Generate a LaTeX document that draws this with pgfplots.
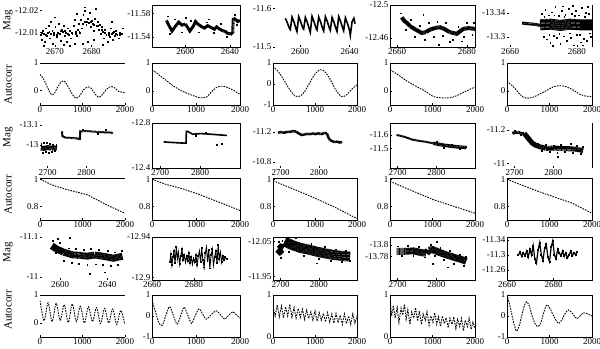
\documentclass[border=0pt]{standalone}
\usepackage{fontspec}
\setmainfont{Liberation Serif}
\usepackage{pgfplots}
\pgfplotsset{compat=1.18}
\pgfplotsset{
  base/.style={scale only axis, anchor=south west,
    axis line style={line width=0.7bp}, tick style={line width=0.5bp, black},
    major tick length=2bp, tick align=inside, tick pos=left,
    ticklabel style={font=\fontsize{9bp}{10bp}\selectfont, inner sep=1.5bp},
    /pgf/number format/assume math mode=true, scaled ticks=false},
  mag/.style={base, y dir=reverse},
  acf/.style={base, xmin=0, xmax=2000, xtick={0,1000,2000}, xticklabels={0,1000,2000}},
  c1/.style={at={(40bp,#1)}, width=85bp},
  c2/.style={at={(152bp,#1)}, width=88bp},
  c3/.style={at={(273bp,#1)}, width=84bp},
  c4/.style={at={(390bp,#1)}, width=85bp},
  c5/.style={at={(507bp,#1)}, width=85bp},
  nof/.style={axis line style={draw=none}},
  tbf/.style={axis line style={draw=none}, extra description/.code={\draw[line width=0.7bp] (0,0) -- (1,0) (0,1) -- (1,1);}},
  rf/.style={axis line style={draw=none}, extra description/.code={\draw[line width=0.7bp] (1,0) -- (1,1);}},
  band/.style={black, line width=#1, line join=miter, no marks, dash pattern=on 0.9bp off 0.35bp},
  dots/.style={only marks, mark=square*, mark size=0.45bp, black},
  ac/.style={black, line width=0.9bp, dash pattern=on 1.6bp off 1.1bp, no marks},
}
\begin{document}
\begin{tikzpicture}
\path[use as bounding box] (0,0) rectangle (600bp,349bp);
\tikzset{lab/.style={rotate=90, font=\fontsize{11bp}{12bp}\selectfont}}
\node[lab] at (8bp,329bp) {Mag};
\node[lab] at (8bp,264bp) {Autocorr};
\node[lab] at (8bp,212bp) {Mag};
\node[lab] at (8bp,154bp) {Autocorr};
\node[lab] at (8bp,97bp) {Mag};
\node[lab] at (8bp,39bp) {Autocorr};

% ---------- row 1: Mag ----------
\begin{axis}[mag, nof, c1=302bp, height=42bp, xmin=2666, xmax=2689, ymin=-12.0225, ymax=-12.0035,
  xtick={2670,2680}, xticklabels={2670,2680}, ytick={-12.02,-12.01}, yticklabels={-12.02,-12.01}]
\addplot[dots] coordinates {(2666.2,-12.0090) (2666.5,-12.0070) (2666.8,-12.0110) (2667.1,-12.0095) (2667.3,-12.0060) (2667.6,-12.0120) (2667.9,-12.0085) (2668.2,-12.0100) (2668.4,-12.0130) (2668.7,-12.0075) (2669.0,-12.0095) (2669.3,-12.0110) (2669.5,-12.0050) (2669.8,-12.0090) (2670.1,-12.0125) (2670.4,-12.0080) (2670.7,-12.0100) (2671.0,-12.0140) (2671.3,-12.0095) (2671.5,-12.0065) (2671.8,-12.0115) (2672.1,-12.0105) (2672.4,-12.0130) (2672.7,-12.0085) (2673.0,-12.0100) (2673.2,-12.0060) (2673.5,-12.0120) (2673.8,-12.0090) (2674.1,-12.0110) (2674.4,-12.0075) (2674.7,-12.0095) (2675.0,-12.0130) (2675.3,-12.0050) (2675.6,-12.0105) (2675.9,-12.0085) (2676.2,-12.0115) (2676.5,-12.0140) (2676.8,-12.0100) (2677.1,-12.0160) (2677.4,-12.0120) (2677.7,-12.0180) (2678.0,-12.0150) (2678.2,-12.0200) (2678.5,-12.0135) (2678.8,-12.0165) (2679.1,-12.0145) (2679.4,-12.0190) (2679.7,-12.0125) (2680.0,-12.0155) (2680.3,-12.0140) (2680.6,-12.0110) (2680.9,-12.0165) (2681.2,-12.0130) (2681.5,-12.0150) (2681.8,-12.0115) (2682.1,-12.0135) (2682.4,-12.0095) (2682.7,-12.0125) (2683.0,-12.0105) (2683.3,-12.0075) (2683.6,-12.0115) (2683.9,-12.0090) (2684.2,-12.0060) (2684.5,-12.0100) (2684.8,-12.0080) (2685.1,-12.0120) (2685.4,-12.0095) (2685.7,-12.0070) (2686.0,-12.0105) (2686.3,-12.0085) (2686.6,-12.0110) (2686.9,-12.0090) (2687.2,-12.0075) (2687.5,-12.0100) (2688.0,-12.0095)
 (2667.0,-12.0040) (2669.0,-12.0150) (2672.5,-12.0045) (2675.5,-12.0160) (2678.0,-12.0215) (2679.0,-12.0060) (2681.0,-12.0210) (2683.0,-12.0045) (2685.5,-12.0150) (2677.5,-12.0050) (2680.5,-12.0070) (2688.3,-12.0120) (2670.0,-12.0170) (2674.0,-12.0040) (2676.0,-12.0185)
 (2666.4,-12.0100) (2667.5,-12.0090) (2668.5,-12.0105) (2669.6,-12.0100) (2670.6,-12.0090) (2671.6,-12.0110) (2672.6,-12.0110) (2673.6,-12.0095) (2674.6,-12.0100) (2675.6,-12.0095) (2676.6,-12.0105) (2677.6,-12.0140) (2678.6,-12.0150) (2679.6,-12.0150) (2680.6,-12.0135) (2681.6,-12.0130) (2682.6,-12.0115) (2683.6,-12.0100) (2684.6,-12.0090) (2685.6,-12.0100) (2686.6,-12.0095) (2687.6,-12.0090)};
\end{axis}

\begin{axis}[mag, c2=302bp, height=42bp, xmin=2570, xmax=2649, ymin=-11.594, ymax=-11.523,
  xtick={2600,2640}, xticklabels={2600,2640}, ytick={-11.58,-11.54}, yticklabels={-11.58,-11.54}]
\addplot[band=3bp] coordinates {(2583,-11.568) (2585,-11.560) (2588,-11.550) (2591,-11.558) (2594,-11.565) (2597,-11.560) (2600,-11.562) (2602,-11.556) (2604,-11.550) (2607,-11.558) (2609,-11.566) (2611,-11.562) (2614,-11.558) (2617,-11.555) (2620,-11.559) (2623,-11.556) (2626,-11.553) (2628,-11.557) (2630,-11.554) (2633,-11.551) (2636,-11.549) (2638,-11.546) (2641,-11.545) (2642.5,-11.548) (2643,-11.572) (2645,-11.570) (2647,-11.566) (2649,-11.568)};
\addplot[dots] coordinates {(2584,-11.575) (2586,-11.545) (2590,-11.570) (2597,-11.548) (2605,-11.567) (2612,-11.548) (2619,-11.565) (2625,-11.547) (2632,-11.562) (2637,-11.541) (2644,-11.578) (2646,-11.560) (2621,-11.570) (2600,-11.572)};
\end{axis}

\begin{axis}[mag, nof, c3=302bp, height=42bp, xmin=2578, xmax=2646, ymin=-11.608, ymax=-11.5,
  xtick={2600,2640}, xticklabels={2600,2640}, ytick={-11.6,-11.5}, yticklabels={-11.6,-11.5}]
\addplot[black, line width=1.6bp, no marks] coordinates {(2588,-11.574) (2589.5,-11.563) (2591.3,-11.548) (2592,-11.545) (2593.4,-11.577) (2594.9,-11.565) (2596.7,-11.546) (2597.4,-11.540) (2598.8,-11.578) (2600.3,-11.566) (2602.1,-11.549) (2602.8,-11.546) (2604.2,-11.576) (2605.7,-11.564) (2607.5,-11.545) (2608.2,-11.538) (2609.6,-11.579) (2611.1,-11.566) (2612.9,-11.548) (2613.6,-11.544) (2615,-11.577) (2616.5,-11.565) (2618.3,-11.546) (2619,-11.541) (2620.4,-11.578) (2621.9,-11.566) (2623.7,-11.548) (2624.4,-11.543) (2625.8,-11.576) (2627.3,-11.564) (2629.1,-11.546) (2629.8,-11.540) (2631.2,-11.578) (2632.7,-11.566) (2634.5,-11.548) (2635.2,-11.542) (2636.6,-11.575) (2638.1,-11.562) (2639.9,-11.544) (2640.6,-11.530) (2642,-11.565) (2643.5,-11.574) (2644.4,-11.560)};
\end{axis}

\begin{axis}[mag, c4=302bp, height=42bp, xmin=2658, xmax=2682.3, ymin=-12.5, ymax=-12.449,
  xtick={2660,2680}, xticklabels={2660,2680}, ytick={-12.5,-12.46}, yticklabels={-12.5,-12.46}]
\addplot[band=4bp] coordinates {(2661.4,-12.485) (2662,-12.481) (2662.9,-12.478) (2663.8,-12.474) (2664.6,-12.472) (2665.8,-12.469) (2667.1,-12.466) (2668.2,-12.467) (2669.4,-12.470) (2670.8,-12.472) (2672.3,-12.473) (2673.5,-12.471) (2675.1,-12.467) (2677.1,-12.465) (2678,-12.468) (2679,-12.471) (2680.5,-12.472) (2682.3,-12.471)};
\addplot[dots] coordinates {(2661,-12.490) (2662.5,-12.470) (2664,-12.482) (2665,-12.462) (2666.5,-12.475) (2668,-12.458) (2669,-12.478) (2670.5,-12.462) (2671.5,-12.480) (2673,-12.463) (2674,-12.478) (2676,-12.458) (2677.5,-12.474) (2679,-12.462) (2680,-12.478) (2681.5,-12.464) (2682,-12.478) (2667.5,-12.488) (2675,-12.455) (2672,-12.452) (2678.5,-12.456)};
\end{axis}

\begin{axis}[mag, rf, c5=302bp, height=42bp, xmin=2659.1, xmax=2684.5, ymin=-13.353, ymax=-13.283,
  xtick={2660,2680}, xticklabels={2660,2680}, ytick={-13.34,-13.3}, yticklabels={-13.34,-13.3}]
\addplot[band=3bp] coordinates {(2663.6,-13.323) (2665,-13.322) (2667,-13.321) (2669.2,-13.319)};
\addplot[band=11bp] coordinates {(2669,-13.320) (2672,-13.321) (2675,-13.319) (2678,-13.321) (2681,-13.320) (2684.5,-13.320)};
\addplot[dots] coordinates {(2669.5,-13.338) (2670,-13.300) (2670.5,-13.345) (2671,-13.296) (2671.5,-13.336) (2672,-13.290) (2672.5,-13.341) (2673,-13.302) (2673.5,-13.350) (2674,-13.298) (2674.5,-13.335) (2675,-13.288) (2675.5,-13.343) (2676,-13.301) (2676.5,-13.337) (2677,-13.293) (2677.5,-13.347) (2678,-13.299) (2678.5,-13.339) (2679,-13.286) (2679.5,-13.344) (2680,-13.303) (2680.5,-13.336) (2681,-13.291) (2681.5,-13.348) (2682,-13.297) (2682.5,-13.340) (2683,-13.294) (2683.5,-13.338) (2684,-13.300) (2670.2,-13.334) (2671.7,-13.304) (2673.2,-13.336) (2674.7,-13.305) (2676.2,-13.333) (2677.7,-13.306) (2679.2,-13.335) (2680.7,-13.304) (2682.2,-13.334) (2683.7,-13.306) (2672.8,-13.285) (2678.8,-13.352) (2681.8,-13.286) (2675.8,-13.351) (2683.2,-13.350)};
\end{axis}

% ---------- row 2: Autocorr ----------
\begin{axis}[acf, tbf, c1=244bp, height=42bp, ymin=-0.55, ymax=1, ytick={0,1}, yticklabels={0,1}]
\addplot[ac, smooth] coordinates {(0,0.58) (80,0.42) (160,0.15) (230,-0.08) (280,-0.17) (340,-0.12) (420,0.12) (500,0.3) (550,0.34) (610,0.27) (690,0.05) (780,-0.2) (860,-0.3) (940,-0.2) (1020,0.0) (1100,0.1) (1140,0.12) (1200,0.07) (1290,-0.13) (1370,-0.26) (1450,-0.2) (1540,-0.02) (1620,0.1) (1690,0.13) (1760,0.08) (1850,-0.05) (1930,-0.08) (2000,-0.1)};
\end{axis}

\begin{axis}[acf, c2=244bp, height=42bp, ymin=-0.5, ymax=1, ytick={0,1}, yticklabels={0,1}]
\addplot[ac, smooth] coordinates {(0,0.75) (100,0.65) (200,0.52) (315,0.39) (450,0.22) (621,0.05) (780,-0.07) (927,-0.16) (1080,-0.24) (1234,-0.22) (1310,-0.1) (1387,0.03) (1460,0.12) (1540,0.17) (1620,0.17) (1694,0.14) (1770,0.09) (1846,0.03) (1920,-0.04) (2000,-0.12)};
\end{axis}

\begin{axis}[acf, c3=244bp, height=42bp, ymin=-1, ymax=1, ytick={-1,0,1}, yticklabels={-1,0,1}]
\addplot[ac, smooth] coordinates {(0,0.84) (100,0.65) (200,0.38) (300,0.05) (400,-0.28) (500,-0.52) (595,-0.6) (700,-0.5) (800,-0.2) (900,0.15) (1000,0.48) (1119,0.68) (1200,0.65) (1300,0.42) (1400,0.08) (1500,-0.3) (1635,-0.6) (1750,-0.52) (1850,-0.3) (1950,-0.12) (2000,-0.05)};
\end{axis}

\begin{axis}[acf, c4=244bp, height=42bp, ymin=-0.5, ymax=1, ytick={0,1}, yticklabels={0,1}]
\addplot[ac, smooth] coordinates {(0,0.75) (150,0.62) (393,0.36) (600,0.18) (784,0.03) (900,-0.08) (1020,-0.2) (1176,-0.24) (1300,-0.25) (1412,-0.24) (1550,-0.18) (1700,-0.07) (1850,0.04) (2000,0.14)};
\end{axis}

\begin{axis}[acf, c5=244bp, height=42bp, ymin=-0.5, ymax=1, ytick={0,1}, yticklabels={0,1}]
\addplot[ac, smooth] coordinates {(0,0.35) (150,0.15) (306,-0.12) (385,-0.22) (463,-0.26) (620,-0.22) (780,-0.1) (933,0.02) (1090,0.15) (1247,0.19) (1403,0.15) (1560,0.03) (1717,-0.12) (1850,-0.18) (2000,-0.2)};
\end{axis}

% ---------- row 3: Mag ----------
\begin{axis}[mag, nof, c1=181bp, height=45bp, xmin=2680, xmax=2900, ymin=-13.11, ymax=-12.885,
  xtick={2700,2800}, xticklabels={2700,2800}, ytick={-13.1,-13}, yticklabels={-13.1,-13}]
\addplot[band=5bp] coordinates {(2682,-12.985) (2690,-12.983) (2700,-12.987) (2710,-12.984) (2718,-12.986) (2724,-12.985)};
\addplot[band=2bp] coordinates {(2737,-13.068) (2738,-13.045) (2745,-13.037) (2760,-13.035) (2775,-13.033) (2783,-13.030) (2784,-13.068) (2800,-13.070) (2820,-13.067) (2840,-13.064) (2860,-13.063) (2869,-13.060)};
\addplot[dots] coordinates {(2683,-13.005) (2686,-12.962) (2690,-13.010) (2694,-12.965) (2698,-13.012) (2702,-12.960) (2706,-13.005) (2710,-12.968) (2714,-13.000) (2718,-12.970) (2722,-13.003) (2790,-13.078) (2830,-13.055) (2850,-13.075)};
\end{axis}

\begin{axis}[mag, c2=181bp, height=45bp, xmin=2680, xmax=2900, ymin=-12.8, ymax=-12.4,
  xtick={2700,2800}, xticklabels={2700,2800}, ytick={-12.8,-12.4}, yticklabels={-12.8,-12.4}]
\addplot[black, line width=1.6bp, no marks] coordinates {(2709,-12.632) (2725,-12.628) (2740,-12.625) (2755,-12.622) (2765,-12.621) (2766,-12.726) (2770,-12.724) (2782,-12.700) (2802,-12.706) (2820,-12.702) (2835,-12.698) (2850,-12.694) (2867,-12.689)};
\addplot[dots] coordinates {(2842,-12.610) (2855,-12.612) (2790,-12.685) (2815,-12.715)};
\end{axis}

\begin{axis}[mag, nof, c3=181bp, height=45bp, xmin=2680, xmax=2900, ymin=-11.32, ymax=-10.72,
  xtick={2700,2800}, xticklabels={2700,2800}, ytick={-11.2,-10.8}, yticklabels={-11.2,-10.8}]
\addplot[band=2.5bp] coordinates {(2693,-11.191) (2700,-11.198) (2710,-11.190) (2718,-11.204) (2724,-11.200) (2732,-11.212) (2740,-11.205) (2748,-11.180) (2755,-11.160) (2763,-11.168) (2770,-11.175) (2777,-11.170) (2785,-11.180) (2792,-11.172) (2798,-11.183) (2803,-11.175) (2808,-11.173) (2815,-11.188) (2821,-11.183) (2825,-11.130) (2829,-11.093) (2834,-11.080) (2840,-11.067) (2848,-11.072) (2855,-11.060) (2861,-11.065)};
\end{axis}

\begin{axis}[mag, c4=181bp, height=45bp, xmin=2680, xmax=2900, ymin=-11.69, ymax=-11.352,
  xtick={2700,2800}, xticklabels={2700,2800}, ytick={-11.6,-11.5}, yticklabels={-11.6,-11.5}]
\addplot[band=2bp] coordinates {(2697,-11.600) (2715,-11.588) (2740,-11.563) (2765,-11.552) (2792,-11.538)};
\addplot[band=3.5bp] coordinates {(2792,-11.538) (2810,-11.528) (2827,-11.520) (2850,-11.512) (2878,-11.505)};
\addplot[dots] coordinates {(2800,-11.550) (2820,-11.505) (2840,-11.528) (2860,-11.495) (2875,-11.515)};
\end{axis}

\begin{axis}[mag, rf, c5=181bp, height=45bp, xmin=2680, xmax=2900, ymin=-11.242, ymax=-10.972,
  xtick={2700,2800}, xticklabels={2700,2800}, ytick={-11.2,-11}, yticklabels={-11.2,-11}]
\addplot[band=3bp] coordinates {(2694,-11.180) (2703,-11.186) (2711,-11.185) (2718,-11.178) (2725,-11.180)};
\addplot[band=5bp] coordinates {(2725,-11.180) (2735,-11.150) (2746,-11.120) (2755,-11.108) (2764,-11.100) (2781,-11.090) (2800,-11.092) (2816,-11.090) (2835,-11.088) (2851,-11.086) (2865,-11.082) (2877,-11.076)};
\addplot[dots] coordinates {(2700,-11.195) (2715,-11.170) (2735,-11.140) (2750,-11.105) (2760,-11.120) (2770,-11.075) (2780,-11.110) (2790,-11.070) (2800,-11.105) (2810,-11.065) (2820,-11.110) (2830,-11.068) (2840,-11.100) (2850,-11.062) (2860,-11.108) (2870,-11.058) (2875,-11.100) (2812,-11.040) (2845,-11.120)};
\end{axis}

% ---------- row 4: Autocorr ----------
\begin{axis}[acf, tbf, c1=129bp, height=42bp, ymin=0.7, ymax=1.01, ytick={0.8,1}, yticklabels={0.8,1}]
\addplot[ac] coordinates {(0,1.0) (314,0.955) (627,0.925) (1098,0.888) (1647,0.8) (2000,0.75)};
\end{axis}

\begin{axis}[acf, c2=129bp, height=42bp, ymin=0.7, ymax=1.01, ytick={0.8,1}, yticklabels={0.8,1}]
\addplot[ac] coordinates {(0,1.0) (315,0.963) (700,0.93) (1080,0.888) (1380,0.85) (1770,0.8) (2000,0.77)};
\end{axis}

\begin{axis}[acf, c3=129bp, height=42bp, ymin=0.7, ymax=1.01, ytick={0.8,1}, yticklabels={0.8,1}]
\addplot[ac] coordinates {(0,0.99) (800,0.888) (1435,0.8) (2000,0.71)};
\end{axis}

\begin{axis}[acf, c4=129bp, height=42bp, ymin=0.7, ymax=1.01, ytick={0.8,1}, yticklabels={0.8,1}]
\addplot[ac] coordinates {(0,0.985) (1020,0.85) (2000,0.75)};
\end{axis}

\begin{axis}[acf, c5=129bp, height=42bp, ymin=0.7, ymax=1.01, ytick={0.8,1}, yticklabels={0.8,1}]
\addplot[ac] coordinates {(0,1.0) (745,0.91) (1530,0.825) (2000,0.75)};
\end{axis}

% ---------- row 5: Mag ----------
\begin{axis}[mag, nof, c1=69bp, height=43bp, xmin=2583, xmax=2655, ymin=-11.1, ymax=-10.9925,
  xtick={2600,2640}, xticklabels={2600,2640}, ytick={-11.1,-11}, yticklabels={-11.1,-11}]
\addplot[band=7bp] coordinates {(2593,-11.078) (2597,-11.070) (2603,-11.062) (2611,-11.055) (2617,-11.054) (2623,-11.052) (2629,-11.055) (2634,-11.053) (2640,-11.050) (2645,-11.047) (2650,-11.050) (2653,-11.052)};
\addplot[dots] coordinates {(2594,-11.090) (2596,-11.060) (2600,-11.085) (2603,-11.040) (2607,-11.072) (2610,-11.035) (2613,-11.070) (2616,-11.033) (2620,-11.068) (2623,-11.030) (2626,-11.070) (2630,-11.032) (2633,-11.068) (2636,-11.030) (2640,-11.065) (2643,-11.028) (2646,-11.062) (2649,-11.030) (2652,-11.065) (2598,-11.095) (2625,-11.008) (2638,-11.012) (2608,-11.098)};
\end{axis}

\begin{axis}[mag, c2=69bp, height=43bp, xmin=2660, xmax=2702, ymin=-12.94, ymax=-12.8975,
  xtick={2660,2680}, xticklabels={2660,2680}, ytick={-12.94,-12.9}, yticklabels={-12.94,-12.9}]
\addplot[black, line width=0.9bp, mark=square*, mark size=0.4bp] coordinates {(2668.5,-12.915) (2669,-12.923) (2669.5,-12.912) (2670,-12.920) (2670.5,-12.926) (2671,-12.914) (2671.6,-12.930) (2672.1,-12.918) (2672.6,-12.925) (2673.2,-12.913) (2673.7,-12.921) (2674.3,-12.928) (2674.8,-12.917) (2675.4,-12.922) (2676,-12.915) (2676.5,-12.921) (2677.1,-12.916) (2677.6,-12.924) (2678.2,-12.914) (2678.7,-12.920) (2679.3,-12.913) (2679.8,-12.919) (2680.4,-12.915) (2681,-12.922) (2681.5,-12.912) (2682.1,-12.921) (2682.6,-12.926) (2683.2,-12.915) (2683.7,-12.929) (2684.3,-12.917) (2684.9,-12.910) (2685.4,-12.924) (2686,-12.930) (2686.5,-12.916) (2687.1,-12.927) (2687.6,-12.909) (2688.2,-12.922) (2688.8,-12.928) (2689.3,-12.912) (2689.9,-12.920) (2690.5,-12.926) (2691,-12.914) (2691.6,-12.932) (2692.1,-12.918) (2692.7,-12.925) (2693.2,-12.915) (2693.8,-12.921) (2694.4,-12.917) (2695,-12.920) (2695.7,-12.918)};
\end{axis}

\begin{axis}[mag, c3=69bp, height=43bp, xmin=2680, xmax=2900, ymin=-12.063, ymax=-11.94,
  xtick={2700,2800}, xticklabels={2700,2800}, ytick={-12.05,-11.95}, yticklabels={-12.05,-11.95}]
\addplot[band=9bp] coordinates {(2694,-12.030) (2698,-12.026) (2702,-12.030) (2706,-12.028)};
\addplot[band=10bp] coordinates {(2710,-12.050) (2730,-12.040) (2751,-12.032) (2773,-12.027) (2795,-12.021) (2817,-12.016) (2838,-12.012) (2860,-12.009) (2882,-12.007)};
\addplot[dots] coordinates {(2696,-12.050) (2700,-12.005) (2704,-12.052) (2715,-12.062) (2720,-12.020) (2740,-12.060) (2760,-12.010) (2780,-12.045) (2800,-12.000) (2815,-12.035) (2830,-11.995) (2845,-12.028) (2860,-11.993) (2870,-12.025) (2880,-11.995) (2795,-11.988)};
\end{axis}

\begin{axis}[mag, c4=69bp, height=43bp, xmin=2680, xmax=2900, ymin=-13.8137, ymax=-13.74,
  xtick={2700,2800}, xticklabels={2700,2800}, ytick={-13.8,-13.78}, yticklabels={-13.8,-13.78}]
\addplot[band=7bp] coordinates {(2697,-13.789) (2720,-13.789) (2740,-13.790) (2760,-13.787) (2774,-13.786) (2780,-13.791) (2791,-13.792) (2805,-13.788) (2826,-13.783) (2850,-13.778) (2870,-13.774) (2878,-13.772)};
\addplot[dots] coordinates {(2700,-13.798) (2710,-13.781) (2725,-13.799) (2740,-13.782) (2755,-13.797) (2770,-13.779) (2785,-13.801) (2795,-13.782) (2810,-13.795) (2820,-13.775) (2835,-13.790) (2845,-13.768) (2860,-13.784) (2870,-13.765) (2877,-13.780) (2790,-13.768) (2830,-13.762) (2800,-13.806)};
\end{axis}

\begin{axis}[mag, c5=69bp, height=43bp, xmin=2660, xmax=2696.4, ymin=-11.348, ymax=-11.233,
  xtick={2660,2680}, xticklabels={2660,2680}, ytick={-11.34,-11.3,-11.26}, yticklabels={-11.34,-11.3,-11.26}]
\addplot[black, line width=1.2bp, mark=square*, mark size=0.4bp] coordinates {(2664.9,-11.300) (2665.6,-11.308) (2666.3,-11.296) (2667,-11.306) (2667.7,-11.298) (2668.4,-11.310) (2669.1,-11.294) (2669.8,-11.315) (2670.5,-11.300) (2671.2,-11.325) (2671.9,-11.290) (2672.6,-11.278) (2673.3,-11.312) (2674,-11.333) (2674.7,-11.300) (2675.4,-11.285) (2676.1,-11.318) (2676.8,-11.328) (2677.5,-11.295) (2678.2,-11.282) (2678.9,-11.320) (2679.6,-11.338) (2680.3,-11.300) (2681,-11.290) (2681.7,-11.315) (2682.4,-11.305) (2683.1,-11.298) (2683.8,-11.310) (2684.5,-11.296) (2685.2,-11.305) (2685.9,-11.292) (2686.6,-11.300) (2687.3,-11.310) (2688,-11.298) (2688.7,-11.306) (2689.4,-11.300) (2689.9,-11.307)};
\end{axis}

% ---------- row 6: Autocorr ----------
\begin{axis}[acf, tbf, c1=12bp, height=42bp, ymin=-0.5, ymax=1, ytick={0,1}, yticklabels={0,1}]
\addplot[ac, smooth] coordinates {(0,0.8) (95,0.08) (190,0.72) (285,0.05) (380,0.7) (475,0.1) (570,0.65) (665,0.02) (760,0.68) (855,0.05) (950,0.6) (1045,0.0) (1140,0.58) (1235,0.05) (1330,0.55) (1425,-0.02) (1520,0.52) (1615,0.0) (1710,0.5) (1805,-0.05) (1900,0.45) (1995,-0.05)};
\end{axis}

\begin{axis}[acf, c2=12bp, height=42bp, ymin=-1, ymax=1, ytick={-1,0,1}, yticklabels={-1,0,1}]
\addplot[ac, smooth] coordinates {(0,0.75) (80,0.2) (150,-0.3) (230,-0.45) (310,0.0) (400,0.45) (480,0.05) (570,-0.38) (650,0.0) (730,0.42) (820,0.0) (900,-0.35) (990,0.05) (1070,0.34) (1150,0.1) (1230,-0.15) (1340,0.05) (1460,0.25) (1560,0.05) (1650,-0.15) (1750,0.05) (1840,0.2) (1920,0.05) (2000,-0.1)};
\end{axis}

\begin{axis}[acf, c3=12bp, height=42bp, ymin=0, ymax=1, ytick={0,1}, yticklabels={0,1}]
\addplot[ac] coordinates {(0,0.72) (50,0.5) (100,0.76) (150,0.48) (200,0.74) (250,0.46) (300,0.72) (350,0.5) (400,0.78) (450,0.47) (500,0.7) (550,0.45) (600,0.68) (650,0.47) (700,0.66) (750,0.42) (800,0.64) (850,0.44) (900,0.6) (950,0.4) (1000,0.62) (1050,0.38) (1100,0.58) (1150,0.4) (1200,0.56) (1250,0.36) (1300,0.58) (1350,0.35) (1400,0.55) (1450,0.33) (1500,0.56) (1550,0.34) (1600,0.52) (1650,0.3) (1700,0.55) (1750,0.32) (1800,0.5) (1850,0.3) (1900,0.55) (1950,0.33) (2000,0.5)};
\end{axis}

\begin{axis}[acf, c4=12bp, height=42bp, ymin=0, ymax=1, ytick={0,1}, yticklabels={0,1}]
\addplot[ac] coordinates {(0,0.88) (40,0.5) (80,0.75) (120,0.45) (170,0.7) (210,0.35) (260,0.68) (300,0.52) (340,0.78) (380,0.42) (420,0.65) (470,0.3) (510,0.6) (560,0.45) (600,0.7) (650,0.38) (690,0.62) (740,0.3) (780,0.55) (830,0.4) (870,0.6) (920,0.28) (960,0.5) (1010,0.35) (1050,0.58) (1100,0.3) (1140,0.48) (1190,0.25) (1230,0.5) (1280,0.32) (1320,0.46) (1370,0.22) (1410,0.45) (1460,0.3) (1500,0.48) (1550,0.2) (1590,0.42) (1640,0.25) (1680,0.44) (1730,0.15) (1770,0.4) (1820,0.25) (1860,0.45) (1910,0.18) (1950,0.35) (2000,0.2)};
\end{axis}

\begin{axis}[acf, c5=12bp, height=42bp, ymin=-1, ymax=1, ytick={-1,0,1}, yticklabels={-1,0,1}]
\addplot[ac, smooth] coordinates {(0,1.0) (60,0.55) (120,0.0) (180,-0.5) (228,-0.72) (290,-0.45) (350,0.05) (410,0.5) (463,0.68) (530,0.45) (600,-0.05) (670,-0.4) (737,-0.5) (800,-0.3) (870,0.2) (934,0.53) (1000,0.4) (1100,0.0) (1207,-0.35) (1300,-0.15) (1360,0.1) (1443,0.29) (1530,0.15) (1640,-0.12) (1720,0.0) (1796,0.15) (1900,0.1) (2000,0.0)};
\end{axis}
\end{tikzpicture}
\end{document}
